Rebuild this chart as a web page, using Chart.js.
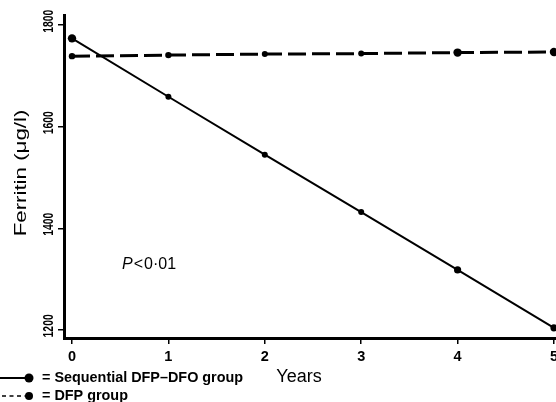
<!DOCTYPE html>
<html>
<head>
<meta charset="utf-8">
<title>Ferritin</title>
<script src="https://cdn.jsdelivr.net/npm/chart.js@4.4.1/dist/chart.umd.min.js"></script>
<style>
    html, body { margin: 0; padding: 0; background: #fff; }
    #chart { display: block; }
</style>
</head>
<body>
<canvas id="chart" width="556" height="402"></canvas>
<script>
    // Data
    var years = [0, 1, 2, 3, 4, 5];
    var sequential = [1774, 1659, 1545, 1432, 1318, 1204];
    var dfpOnly = [1739, 1741, 1743, 1744, 1746, 1747];
    var yTicks = [1200, 1400, 1600, 1800];
    var xTicks = [0, 1, 2, 3, 4, 5];
    var seriesNames = ["= Sequential DFP\u2013DFO group", "= DFP group"];

    var FONT = "'Liberation Sans', Arial, Helvetica, sans-serif";

    function toPoints(vals) {
        return years.map(function (x, i) { return {x: x, y: vals[i]}; });
    }

    // Texts the axes can't do: tick labels, rotated title, P value and the legend
    var extraText = {
        id: 'extraText',
        afterDraw: function (chart) {
            var ctx = chart.ctx;
            var xs = chart.scales.x;
            var ys = chart.scales.y;
            ctx.save();
            ctx.fillStyle = '#000';

            // y tick labels (rotated, sit a bit above their tick)
            ctx.font = 'bold 14px ' + FONT;
            ctx.textAlign = 'center';
            ctx.textBaseline = 'alphabetic';
            yTicks.forEach(function (v) {
                ctx.save();
                ctx.translate(53, ys.getPixelForValue(v) - 4);
                ctx.rotate(-Math.PI / 2);
                ctx.scale(0.74, 1);
                ctx.fillText(String(v), 0, 0);
                ctx.restore();
            });

            // x tick labels
            ctx.font = 'bold 14.5px ' + FONT;
            xTicks.forEach(function (v) {
                ctx.fillText(String(v), xs.getPixelForValue(v), 361);
            });

            // y title
            ctx.save();
            ctx.font = '16.5px ' + FONT;
            ctx.translate(26, 173);
            ctx.rotate(-Math.PI / 2);
            ctx.scale(1.35, 1);
            ctx.fillText('Ferritin (\u03bcg/l)', 0, 0);
            ctx.restore();

            // x title
            ctx.font = '18px ' + FONT;
            ctx.fillText('Years', 299, 382);

            // P value
            ctx.textAlign = 'left';
            ctx.font = 'italic 16px ' + FONT;
            ctx.fillText('P', 122, 269);
            var px = 122 + ctx.measureText('P').width + 1;
            ctx.font = '16px ' + FONT;
            ctx.fillText('<', px, 269);
            px += ctx.measureText('<').width + 1;
            ctx.fillText('0\u00b701', px, 269);

            // legend
            var rows = [
                {y: 378, ds: chart.data.datasets[0], dash: [], x0: 0, r: 4.5, w: 2},
                {y: 396, ds: chart.data.datasets[1], dash: [4, 3.5], x0: 2, r: 4, w: 1.5}
            ];
            ctx.font = 'bold 14.4px ' + FONT;
            ctx.textBaseline = 'middle';
            rows.forEach(function (row, i) {
                ctx.strokeStyle = row.ds.borderColor;
                ctx.lineWidth = row.w;
                ctx.setLineDash(row.dash);
                ctx.beginPath();
                ctx.moveTo(row.x0, row.y);
                ctx.lineTo(29, row.y);
                ctx.stroke();
                ctx.setLineDash([]);
                ctx.beginPath();
                ctx.arc(29, row.y, row.r, 0, Math.PI * 2);
                ctx.fill();
                ctx.fillText(seriesNames[i], 42, row.y);
            });

            ctx.restore();
        }
    };

    var ctx1 = document.getElementById('chart').getContext('2d');
    var myChart1 = new Chart(ctx1, {
        type: 'line',
        data: {
            datasets: [{
                    label: seriesNames[0],
                    data: toPoints(sequential),
                    borderColor: '#000',
                    borderWidth: 2,
                    backgroundColor: '#000',
                    pointRadius: [4.2, 3, 3, 3, 3.6, 3.6],
                    pointBorderWidth: 0,
                    pointBackgroundColor: '#000',
                    tension: 0,
                    clip: false
                },
                {
                    label: seriesNames[1],
                    data: toPoints(dfpOnly),
                    borderColor: '#000',
                    borderWidth: 3,
                    borderDash: [18, 6],
                    backgroundColor: '#000',
                    pointRadius: [3.2, 3.2, 3, 3, 4.2, 4.2],
                    pointBorderWidth: 0,
                    pointBackgroundColor: '#000',
                    tension: 0,
                    clip: false
                }
            ]
        },
        options: {
            responsive: false,
            animation: false,
            layout: {
                autoPadding: false,
                padding: {top: 15, left: 0, right: 0, bottom: 0}
            },
            plugins: {
                legend: {display: false},
                tooltip: {enabled: false}
            },
            scales: {
                x: {
                    type: 'linear',
                    min: -0.083,
                    max: 5.021,
                    afterBuildTicks: function (scale) {
                        scale.ticks = xTicks.map(function (v) { return {value: v}; });
                    },
                    afterFit: function (scale) {
                        scale.height = 64;
                    },
                    border: {display: true, color: '#000', width: 3},
                    grid: {
                        drawOnChartArea: false,
                        drawTicks: true,
                        tickLength: 6,
                        color: '#000',
                        lineWidth: 1.5
                    },
                    ticks: {display: false}
                },
                y: {
                    min: 1184,
                    max: 1820,
                    afterBuildTicks: function (scale) {
                        scale.ticks = yTicks.map(function (v) { return {value: v}; });
                    },
                    afterFit: function (scale) {
                        scale.width = 64;
                    },
                    border: {display: true, color: '#000', width: 3},
                    grid: {
                        drawOnChartArea: false,
                        drawTicks: true,
                        tickLength: 6,
                        color: '#000',
                        lineWidth: 1.5
                    },
                    ticks: {display: false}
                }
            }
        },
        plugins: [extraText]
    });
</script>
</body>
</html>
